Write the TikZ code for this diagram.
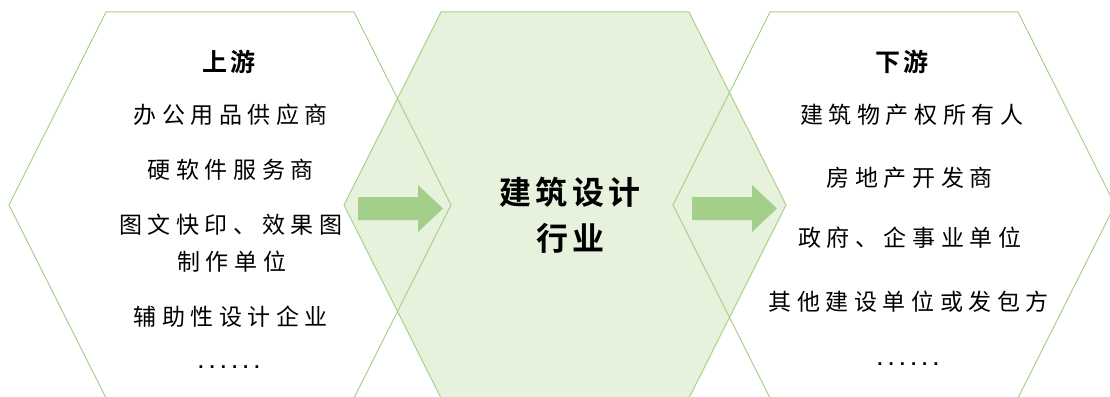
\documentclass[tikz,border=0pt]{standalone}
\usepackage{fontspec}
\newfontfamily\cjk[LetterSpace=24]{Noto Sans CJK SC}
\newfontfamily\cjkb[LetterSpace=14]{Noto Sans CJK SC Bold}
\newfontfamily\dotfont{DejaVu Sans}
\definecolor{hexline}{HTML}{A9D18E}
\definecolor{midfill}{HTML}{E6F2DC}
\definecolor{arrowc}{HTML}{A4CF8B}
\newcommand{\sixdots}{{\dotfont\bfseries\fontsize{15}{16}\selectfont .\hspace{5.5pt}.\hspace{5.5pt}.\hspace{5.5pt}.\hspace{5.5pt}.\hspace{5.5pt}.}}
\begin{document}
\begin{tikzpicture}[x=1pt,y=-1pt,
  hexedge/.style={draw=hexline, line width=1pt, line join=miter},
  item/.style={font=\cjk\fontsize{23}{26}\selectfont, inner sep=0pt, anchor=center},
  ttl/.style={font=\cjkb\fontsize{25}{28}\selectfont, inner sep=0pt, anchor=center},
  mid/.style={font=\cjkb\fontsize{32}{46}\selectfont, inner sep=0pt, align=center, anchor=center},
  bigarrow/.style={fill=arrowc, draw=none}]
\useasboundingbox (0,0) rectangle (1110,396);
\clip (0,0) rectangle (1110,396);
\def\hexpath#1{(#1-221,205) -- (#1-124,12) -- (#1+124,12) -- (#1+221,205) -- (#1+124,398) -- (#1-124,398) -- cycle}
\fill[white] \hexpath{230};
\fill[white] \hexpath{894};
\fill[midfill] \hexpath{565};
\draw[hexedge] \hexpath{230};
\draw[hexedge] \hexpath{565};
\draw[hexedge] \hexpath{894};
% arrows
\fill[bigarrow] (358,197) -- (418,197) -- (418,185) -- (443,208.5) -- (418,232) -- (418,220) -- (358,220) -- cycle;
\fill[bigarrow] (692,197) -- (752,197) -- (752,185) -- (777,208.5) -- (752,232) -- (752,220) -- (692,220) -- cycle;
% left texts
\node[ttl] (up) at (227,62) {上游\kern-3.5pt};
\node[item] (l1) at (228,115) {办公用品供应商\kern-5.5pt};
\node[item] (l2) at (228,170) {硬软件服务商\kern-5.5pt};
\node[item] (l3) at (228,225) {图文快印、效果图\kern-5.5pt};
\node[item] (l4) at (229,262) {制作单位\kern-5.5pt};
\node[item] (l5) at (228,317) {辅助性设计企业\kern-5.5pt};
\node[inner sep=0pt] (l6) at (229,367) {\sixdots};
% middle
\node[mid] (m) at (568,215) {建筑设计\kern-4.5pt\\行业\kern-4.5pt};
% right texts
\node[ttl] (down) at (900,62) {下游\kern-3.5pt};
\node[item] (r1) at (909,115) {建筑物产权所有人\kern-5.5pt};
\node[item] (r2) at (907,178) {房地产开发商\kern-5.5pt};
\node[item] (r3) at (907,238) {政府、企事业单位\kern-5.5pt};
\node[item] (r4) at (906,302) {其他建设单位或发包方\kern-5.5pt};
\node[inner sep=0pt] (r5) at (908,364) {\sixdots};
\end{tikzpicture}
\end{document}
